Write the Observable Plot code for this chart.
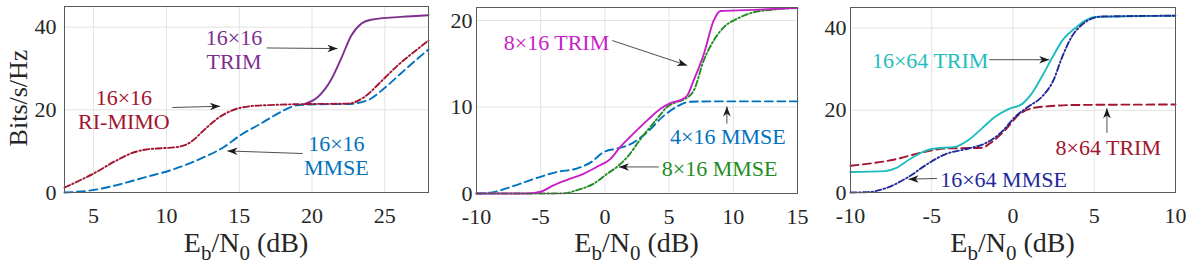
<!DOCTYPE html>
<html>
<head>
<meta charset="utf-8">
<script src="https://cdn.jsdelivr.net/npm/d3@7"></script>
<script src="https://cdn.jsdelivr.net/npm/@observablehq/plot@0.6"></script>
<style>
  body { margin: 0; background: #fff; }
  #wrap { position: relative; width: 1196px; height: 272px; overflow: hidden; background: #fff; }
  #wrap svg { position: absolute; top: 0; }
</style>
</head>
<body>
<div id="wrap"></div>
<script>
// ---------- Panel 1 data (Eb/N0 in dB, Bits/s/Hz) ----------
const p1_trim16x16 = [[19.46,21.4],[20.4,23.1],[21.3,27.2],[22.0,32.4],[22.7,38.0],[23.4,40.9],[24.05,41.8],[26.1,42.5],[28,42.9]];
const p1_riMimo16x16 = [[3,1.2],[5.0,4.6],[6.6,7.8],[7.6,9.5],[8.6,10.4],[9.6,10.7],[10.75,11.0],[11.67,12.2],[12.58,15.1],[13.5,17.9],[14.4,19.7],[15.8,20.9],[17.4,21.2],[19.7,21.4],[22.45,21.5],[23.6,23.1],[24.7,26.7],[25.9,30.8],[27.0,34.0],[28,36.8]];
const p1_mmse16x16 = [[3,0],[4.8,0.5],[6.6,1.8],[8.45,3.6],[10.3,5.4],[12.35,8.2],[13.95,11.0],[15.1,13.9],[16.5,16.7],[17.86,19.5],[19.0,21.1],[20.5,21.35],[22.45,21.4],[23.8,22.3],[24.96,25.2],[26.1,28.8],[27.26,32.4],[28,34.6]];

// ---------- Panel 2 data ----------
const p2_mmse4x16 = [[-10,0],[-8.9,0.1],[-7.33,0.76],[-5.5,1.7],[-3.7,2.5],[-2.15,2.9],[-1.1,3.6],[-0.08,4.8],[0.96,5.2],[2.0,5.7],[3.3,7.1],[4.6,9.0],[5.63,10.07],[6.66,10.6],[8.48,10.65],[15,10.65]];
const p2_mmse8x16 = [[-10,0],[-5.5,0],[-3.2,0.02],[-2.15,0.4],[-0.86,1.15],[0.19,2.3],[0.96,3.1],[1.74,4.2],[2.78,6.3],[4.07,8.65],[4.85,10.0],[5.63,10.6],[6.14,10.85],[6.92,11.9],[7.7,15.4],[8.48,17.7],[9.25,19.2],[10.3,20.2],[11.6,20.95],[13.1,21.25],[15,21.45]];
const p2_trim8x16 = [[-10,0],[-6.0,0],[-5.0,0.2],[-3.97,0.96],[-2.9,1.6],[-1.63,2.3],[-0.6,3.1],[0.44,4.0],[1.2,5.4],[2.0,6.6],[3.3,8.45],[4.33,9.8],[5.1,10.45],[5.88,10.8],[6.4,11.3],[6.92,13.1],[7.7,16.1],[8.48,20.0],[9.0,21.1],[11.07,21.2],[15,21.45]];

// ---------- Panel 3 data ----------
const p3_trim8x64 = [[-10,6.5],[-7.45,7.9],[-5.4,9.9],[-4.17,10.7],[-1.91,10.9],[-1.3,12.3],[-0.48,15.2],[0.34,18.85],[1.16,20.5],[2.4,21.05],[4.03,21.3],[10,21.4]];
const p3_trim16x64 = [[-10,5.0],[-7.86,5.2],[-7.25,5.85],[-6.43,7.9],[-5.4,10.15],[-4.79,10.7],[-3.56,11.1],[-2.74,12.75],[-1.91,15.6],[-1.1,18.4],[-0.28,20.3],[0.55,21.5],[1.16,24.1],[1.78,28.2],[2.4,32.7],[3.1,37.3],[3.83,40.0],[4.44,41.8],[5.06,42.7],[10,43.0]];
const p3_mmse16x64 = [[-10,0],[-8.9,0.1],[-7.86,1.0],[-6.43,3.8],[-5.2,7.1],[-4.17,9.3],[-2.74,10.7],[-1.71,11.95],[-0.68,14.8],[0.13,18.4],[0.95,20.9],[1.78,23.3],[2.5,27.4],[3.0,32.7],[3.62,37.95],[4.24,40.8],[4.85,42.3],[5.47,42.8],[10,43.0]];

// ---------- Ticks ----------
const p1_xTicks = [5, 10, 15, 20, 25];
const p1_yTicks = [0, 20, 40];
const p2_xTicks = [-10, -5, 0, 5, 10, 15];
const p2_yTicks = [0, 10, 20];
const p3_xTicks = [-10, -5, 0, 5, 10];
const p3_yTicks = [0, 20, 40];

// ---------- Annotation labels [x, y, text] ----------
const p1_labels = [[14.64, 34.7, "16×16\nTRIM"], [7.08, 20.05, "16×16\nRI-MIMO"], [21.67, 9.07, "16×16\nMMSE"]];
const p2_labels = [[-3.77, 17.5, "8×16 TRIM"], [9.58, 6.63, "4×16 MMSE"], [8.94, 2.88, "8×16 MMSE"]];
const p3_labels = [[-5.1, 32.1, "16×64 TRIM"], [5.86, 10.9, "8×64 TRIM"], [-0.58, 3.24, "16×64 MMSE"]];

// ---------- Annotation arrows [x1, y1, x2, y2] ----------
const p1_arrows = [[16.89, 34.97, 21.75, 34.82], [10.41, 20.56, 13.68, 20.87], [19.35, 9.43, 14.19, 10.06]];
const p2_arrows = [[0.575, 17.68, 6.41, 14.8], [9.5, 8.07, 9.5, 10.07], [4.2, 3.07, 1.09, 3.07]];
const p3_arrows = [[-1.46, 32.3, 2.23, 32.3], [5.78, 14.5, 5.78, 20.5], [-4.68, 3.41, -6.43, 3.24]];

// ---------- Styling ----------
const C = {
  purple: "#7E2F8E", red: "#A2142F", blue: "#0072BD",
  magenta: "#C81EC8", green: "#1F8C1F", cyan: "#1EBDBD", navy: "#23289A"
};
const DASH = "8,4.5";
const DASHDOT = "6,2.5,1.5,2.5";
const FONT = '"Liberation Serif","Times New Roman",serif';
const fmt = d => String(d);

function headMarker(color, context) {
  const m = d3.create("svg:marker")
    .attr("viewBox", "-11 -5 12 10")
    .attr("markerWidth", 12).attr("markerHeight", 10)
    .attr("markerUnits", "userSpaceOnUse")
    .attr("refX", 0).attr("refY", 0)
    .attr("orient", "auto");
  m.append("path").attr("d", "M0,0L-10,-3.8L-7.2,0L-10,3.8Z").attr("fill", "#1a1a1a").attr("stroke", "none");
  return m.node();
}

const panels = [
  {
    left: 0, width: 432, ml: 64, mr: 4, mt: 6, mb: 80, yPad: 8,
    xDomain: [3, 28], yDomain: [0, 45], xTicks: p1_xTicks, yTicks: p1_yTicks,
    series: [
      {data: p1_mmse16x16, color: C.blue, dash: DASH},
      {data: p1_trim16x16, color: C.purple, dash: null},
      {data: p1_riMimo16x16, color: C.red, dash: DASHDOT}
    ],
    labels: p1_labels, labelColors: [C.purple, C.red, C.blue],
    arrows: p1_arrows, ylabel: true
  },
  {
    left: 432, width: 368, ml: 44, mr: 3, mt: 7, mb: 79, yPad: 4,
    xDomain: [-10, 15], yDomain: [0, 21.5], xTicks: p2_xTicks, yTicks: p2_yTicks,
    series: [
      {data: p2_mmse4x16, color: C.blue, dash: DASH},
      {data: p2_mmse8x16, color: C.green, dash: DASHDOT},
      {data: p2_trim8x16, color: C.magenta, dash: null}
    ],
    labels: p2_labels, labelColors: [C.magenta, C.blue, C.green],
    arrows: p2_arrows, ylabel: false
  },
  {
    left: 800, width: 396, ml: 50, mr: 21, mt: 7, mb: 80, yPad: 4,
    xDomain: [-10, 10], yDomain: [0, 45], xTicks: p3_xTicks, yTicks: p3_yTicks,
    series: [
      {data: p3_trim8x64, color: C.red, dash: DASH},
      {data: p3_trim16x64, color: C.cyan, dash: null},
      {data: p3_mmse16x64, color: C.navy, dash: DASHDOT}
    ],
    labels: p3_labels, labelColors: [C.cyan, C.red, C.navy],
    arrows: p3_arrows, ylabel: false
  }
];

function build(cfg, marker) {
  const labelRows = cfg.labels.map((l, i) => ({x: l[0], y: l[1], text: l[2], color: cfg.labelColors[i]}));
  return Plot.plot({
    width: cfg.width, height: 272,
    marginLeft: cfg.ml, marginRight: cfg.mr, marginTop: cfg.mt, marginBottom: cfg.mb,
    x: {domain: cfg.xDomain},
    y: {domain: cfg.yDomain},
    style: {fontFamily: FONT, fontSize: "22px", color: "#262626", background: "transparent", overflow: "visible"},
    marks: [
      Plot.gridX({ticks: cfg.xTicks, stroke: "#e2e2e2", strokeOpacity: 1}),
      Plot.gridY({ticks: cfg.yTicks, stroke: "#e2e2e2", strokeOpacity: 1}),
      ...cfg.series.map(s => Plot.line(s.data, {
        x: d => d[0], y: d => d[1], stroke: s.color, strokeWidth: 1.9,
        strokeDasharray: s.dash, curve: "monotone-x"
      })),
      Plot.frame({stroke: "#5a5a5a", strokeWidth: 1}),
      Plot.axisX({ticks: cfg.xTicks, tickSize: 0, tickPadding: 15, tickFormat: fmt, label: null}),
      Plot.axisY({ticks: cfg.yTicks, tickSize: 0, tickPadding: cfg.yPad, tickFormat: fmt, label: null}),
      Plot.link(cfg.arrows, {
        x1: d => d[0], y1: d => d[1], x2: d => d[2], y2: d => d[3],
        stroke: "#222", strokeWidth: 0.8, markerEnd: marker
      }),
      Plot.text(labelRows, {
        x: "x", y: "y", text: "text", fill: "color",
        fontSize: 22, lineHeight: 1.09, lineAnchor: "middle", textAnchor: "middle"
      })
    ]
  });
}

const wrap = document.getElementById("wrap");
for (const cfg of panels) {
  let svg;
  try { svg = build(cfg, headMarker); } catch (e) { svg = build(cfg, "arrow"); }
  svg.style.left = cfg.left + "px";
  const s = d3.select(svg);
  const cx = (cfg.ml + cfg.width - cfg.mr) / 2;
  const xl = s.append("text")
    .attr("x", cx).attr("y", 252)
    .attr("text-anchor", "middle")
    .attr("fill", "#262626")
    .style("font-family", FONT).style("font-size", "28px");
  xl.append("tspan").text("E");
  xl.append("tspan").attr("dy", 8).style("font-size", "21px").text("b");
  xl.append("tspan").attr("dy", -8).text("/N");
  xl.append("tspan").attr("dy", 8).style("font-size", "21px").text("0");
  xl.append("tspan").attr("dy", -8).text(" (dB)");
  if (cfg.ylabel) {
    s.append("text")
      .attr("transform", "translate(27,98) rotate(-90)")
      .attr("text-anchor", "middle")
      .attr("fill", "#262626")
      .style("font-family", FONT).style("font-size", "26px")
      .text("Bits/s/Hz");
  }
  wrap.appendChild(svg);
}
</script>
</body>
</html>
